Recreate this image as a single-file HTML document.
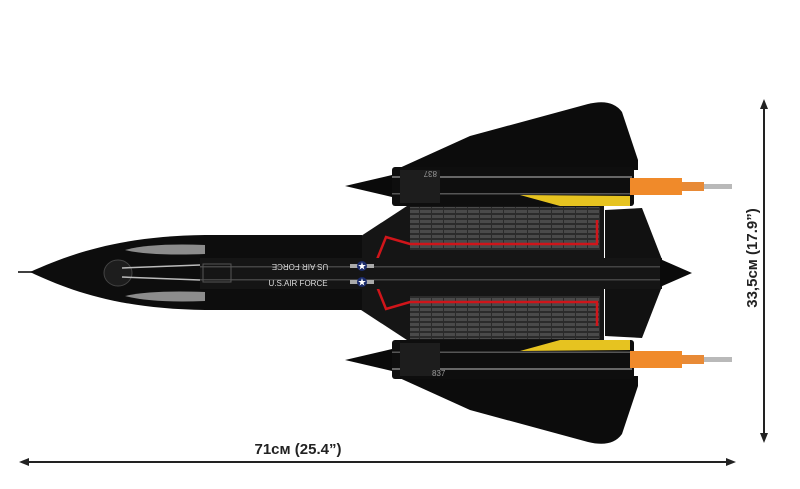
<!DOCTYPE html>
<html><head><meta charset="utf-8"><style>
html,body{margin:0;padding:0;background:#fff;}
svg{display:block}
</style></head><body>
<svg width="800" height="489" viewBox="0 0 800 489" xmlns="http://www.w3.org/2000/svg" font-family="Liberation Sans, sans-serif">
<defs>
<pattern id="grid" width="12" height="5" patternUnits="userSpaceOnUse">
<rect width="12" height="5" fill="#2b2b2b"/>
<rect width="11" height="3" fill="#4a4a4a"/>
</pattern>
<g id="half">
  <!-- outer wing -->
  <path d="M395,170 L470,136 L588,104 Q612,98 622,112 L638,160 L638,170 Z" fill="#0c0c0c"/>
  <!-- inner wing -->
  <path d="M358,238 L410,204 L604,204 L604,262 L358,262 Z" fill="#151515"/>
  <rect x="410" y="207" width="190" height="43" fill="url(#grid)"/>
  <!-- fin -->
  <path d="M605,210 L642,208 L663,262 L605,262 Z" fill="#111"/>
  <!-- red line -->
  <path d="M376,262 L386,237 L410,244 L597,244 L597,220" fill="none" stroke="#d0151a" stroke-width="2.5"/>
  <!-- nacelle -->
  <rect x="392" y="167" width="242" height="39" rx="3" fill="#0e0e0e"/>
  <rect x="392" y="176" width="240" height="2" fill="#666"/>
  <rect x="392" y="193" width="240" height="1.5" fill="#555"/>
  <rect x="400" y="170" width="40" height="33" fill="#1d1d1d"/>
  <path d="M345,186 L392,175 L392,197 Z" fill="#0a0a0a"/>
  <path d="M520,195 L630,196 L630,206 L560,206 Z" fill="#e6c320"/>
  <!-- exhaust -->
  <rect x="630" y="178" width="52" height="17" fill="#f08a2a"/>
  <rect x="682" y="182" width="22" height="9" fill="#e88a36"/>
  <rect x="704" y="184" width="28" height="5" fill="#b9b9b9"/>
</g>
</defs>

<use href="#half"/>
<use href="#half" transform="translate(0,546) scale(1,-1)"/>

<!-- fuselage -->
<path d="M30,272 C70,254 120,236 205,235 L362,235 L362,310 L205,310 C120,309 70,291 30,272 Z" fill="#0d0d0d"/>
<line x1="18" y1="272" x2="32" y2="272" stroke="#000" stroke-width="1.5"/>
<rect x="200" y="258" width="462" height="31" fill="#151515"/>
<rect x="200" y="266" width="462" height="1.5" fill="#444"/>
<rect x="200" y="279" width="462" height="1.5" fill="#444"/>
<path d="M660,259 L692,273 L660,287 Z" fill="#0a0a0a"/>
<path d="M125,250 Q150,243 205,245 L205,254 Q150,256 125,250 Z" fill="#8c8c8c"/>
<path d="M125,296 Q150,303 205,301 L205,292 Q150,290 125,296 Z" fill="#8c8c8c"/>
<ellipse cx="118" cy="273" rx="14" ry="13" fill="#1d1d1d" stroke="#444"/>
<line x1="122" y1="268" x2="200" y2="265" stroke="#bbb" stroke-width="1.5"/>
<line x1="122" y1="277" x2="200" y2="280" stroke="#bbb" stroke-width="1.5"/>
<rect x="203" y="264" width="28" height="18" fill="none" stroke="#555"/>
<text x="300" y="270" font-size="8" fill="#ddd" text-anchor="middle" transform="rotate(180 300 267)">US AIR FORCE</text>
<text x="298" y="286" font-size="8" fill="#ddd" text-anchor="middle">U.S.AIR FORCE</text>
<rect x="350" y="264" width="24" height="4" fill="#aaa"/>
<rect x="350" y="280" width="24" height="4" fill="#aaa"/>
<circle cx="362" cy="266" r="5" fill="#1a2b6b"/>
<circle cx="362" cy="282" r="5" fill="#1a2b6b"/>
<text x="362" y="269.5" font-size="10" fill="#fff" text-anchor="middle">★</text>
<text x="362" y="285.5" font-size="10" fill="#fff" text-anchor="middle">★</text>
<text x="437" y="177" font-size="8" fill="#999" transform="rotate(180 437 174)">837</text>
<text x="432" y="376" font-size="8" fill="#999">837</text>

<!-- dimension arrows -->
<line x1="26" y1="462" x2="730" y2="462" stroke="#222" stroke-width="2"/>
<path d="M19,462 L29,458 L29,466 Z" fill="#222"/>
<path d="M736,462 L726,458 L726,466 Z" fill="#222"/>
<text x="298" y="454" font-size="15" font-weight="bold" fill="#222" text-anchor="middle">71см (25.4”)</text>
<line x1="764" y1="106" x2="764" y2="436" stroke="#222" stroke-width="2"/>
<path d="M764,99 L760,109 L768,109 Z" fill="#222"/>
<path d="M764,443 L760,433 L768,433 Z" fill="#222"/>
<text x="0" y="0" font-size="15" font-weight="bold" fill="#222" text-anchor="middle" transform="translate(757,258) rotate(-90)">33,5см (17.9”)</text>
</svg>
</body></html>
